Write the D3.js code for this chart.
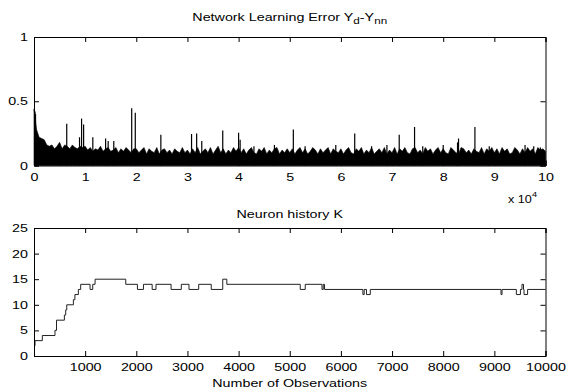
<!DOCTYPE html>
<html>
<head>
<meta charset="utf-8">
<script src="https://cdn.jsdelivr.net/npm/d3@7"></script>
<style>
  body { margin: 0; background: #fff; }
  svg { display: block; font-family: "Liberation Sans", Arial, sans-serif; }
  .axis text { font-size: 11px; fill: #000; }
  .axis path, .axis line { stroke: #000; }
</style>
</head>
<body>
<div id="chart"></div>
<script>
// top plot: envelope of the error every 500 observations (0 .. 100000)
const errStep = 500;
const errEnv = [
  0.44,0.28,0.22,0.21,0.20,0.16,0.15,0.16,0.13,0.15,0.18,0.13,0.16,0.15,0.13,0.16,0.14,0.13,0.15,0.14,
  0.15,0.12,0.14,0.11,0.13,0.12,0.15,0.11,0.13,0.14,0.11,0.12,0.14,0.10,0.13,0.11,0.14,0.12,0.10,0.13,
  0.13,0.10,0.12,0.14,0.09,0.13,0.11,0.10,0.14,0.09,0.12,0.13,0.10,0.12,0.09,0.13,0.11,0.10,0.14,0.10,
  0.12,0.09,0.13,0.10,0.14,0.09,0.11,0.13,0.10,0.14,0.09,0.12,0.15,0.10,0.13,0.09,0.12,0.10,0.14,0.11,
  0.14,0.10,0.13,0.09,0.12,0.14,0.10,0.09,0.13,0.11,0.14,0.09,0.12,0.10,0.13,0.14,0.09,0.12,0.10,0.13,
  0.10,0.13,0.09,0.12,0.14,0.10,0.13,0.09,0.11,0.14,0.12,0.09,0.13,0.10,0.12,0.14,0.09,0.13,0.11,0.10,
  0.13,0.09,0.12,0.14,0.10,0.09,0.13,0.11,0.14,0.09,0.12,0.10,0.14,0.09,0.11,0.13,0.10,0.14,0.09,0.12,
  0.10,0.14,0.09,0.13,0.11,0.14,0.10,0.09,0.13,0.14,0.10,0.12,0.09,0.14,0.11,0.13,0.09,0.12,0.14,0.10,
  0.13,0.10,0.09,0.14,0.12,0.10,0.09,0.14,0.13,0.10,0.12,0.09,0.13,0.11,0.10,0.14,0.09,0.13,0.11,0.14,
  0.10,0.13,0.09,0.14,0.11,0.13,0.09,0.10,0.14,0.12,0.09,0.13,0.10,0.14,0.11,0.13,0.09,0.14,0.12,0.13,
  0.11
];
// isolated spikes (observation, error)
const spikeObs = [200, 300, 5000, 6400, 8900, 9300, 9700, 11500, 14000, 14500, 15600, 19100, 19800,
  24800, 30800, 31800, 32800, 36900, 40000, 40300, 43000, 47000, 50700, 53000, 59000, 62700, 66000,
  69000, 71400, 74400, 76000, 80000, 82800, 83000, 86200, 89000, 96000, 97700, 99000];
const spikeVal = [0.42, 0.40, 0.17, 0.325, 0.22, 0.365, 0.32, 0.22, 0.21, 0.19, 0.19, 0.445, 0.41,
  0.24, 0.245, 0.25, 0.19, 0.273, 0.255, 0.20, 0.15, 0.16, 0.28, 0.15, 0.16, 0.25, 0.15,
  0.16, 0.24, 0.30, 0.15, 0.16, 0.18, 0.21, 0.30, 0.15, 0.16, 0.15, 0.14];

// bottom plot: neuron count K, step changes (observation, K)
const kObs = [0, 20, 163, 410, 440, 594, 620, 640, 770, 800, 867, 913, 1096, 1148, 1194, 1794, 2022,
  2140, 2310, 2385, 2680, 2880, 3030, 3220, 3465, 3690, 3770, 5205, 5303, 5630, 5655, 5680, 6430,
  6455, 6500, 6575, 9130, 9150, 9430, 9510, 9540, 9570, 9580, 9650, 10000];
const kVal = [2, 3, 4, 5, 7, 8, 9, 10, 11, 12, 13, 14, 13, 14, 15, 14, 13,
  14, 13, 14, 13, 14, 13, 14, 13, 15, 14, 13, 14, 13, 14, 13, 12,
  13, 12, 13, 12, 13, 12, 13, 14, 13, 12, 13, 13];

const errTicks = d3.range(0, 100001, 10000);
const errYTicks = [0, 0.5, 1];
const kTicks = d3.range(1000, 10001, 1000);
const kYTicks = [0, 5, 10, 15, 20, 25];

const W = 566, H = 392;
const left = 34, right = 545.5;
const top1 = 37, bot1 = 165.5, top2 = 228, bot2 = 356;
const tick = 5;
const wide = 1.3; // the original text is stretched horizontally

const svg = d3.select('#chart').append('svg')
  .attr('width', W).attr('height', H);

function stretch(sel, k) {
  sel.each(function() {
    const t = d3.select(this);
    const x = +(t.attr('x') || 0);
    t.attr('transform', 'translate(' + x + ',0) scale(' + k + ',1) translate(' + (-x) + ',0)');
  });
}

// ---------- top plot ----------
const x1 = d3.scaleLinear().domain([0, 100000]).range([left, right]);
const y1 = d3.scaleLinear().domain([0, 1]).range([bot1, top1]);

const area = d3.area()
  .x((d, i) => x1(i * errStep))
  .y0(y1(0))
  .y1(d => y1(d));
svg.append('path')
  .datum(errEnv)
  .attr('d', area)
  .attr('fill', '#000')
  .attr('stroke', '#000')
  .attr('stroke-width', 0.6);

svg.append('g').selectAll('line')
  .data(spikeObs)
  .enter().append('line')
  .attr('x1', d => x1(d)).attr('x2', d => x1(d))
  .attr('y1', y1(0))
  .attr('y2', (d, i) => y1(spikeVal[i]))
  .attr('stroke', '#000')
  .attr('stroke-width', 1.2);

function frame(x, y, xt, yt, xfmt, yfmt, yb) {
  svg.append('g').attr('class', 'axis')
    .attr('transform', 'translate(0,' + yb[0] + ')')
    .call(d3.axisBottom(x).tickValues(xt).tickFormat(xfmt).tickSize(-tick).tickPadding(tick + 5))
    .call(g => g.selectAll('text').attr('dy', '0.5em'))
    .call(g => stretch(g.selectAll('text'), wide));
  svg.append('g').attr('class', 'axis')
    .attr('transform', 'translate(0,' + yb[1] + ')')
    .call(d3.axisTop(x).tickValues(xt).tickFormat('').tickSize(-tick));
  svg.append('g').attr('class', 'axis')
    .attr('transform', 'translate(' + left + ',0)')
    .call(d3.axisLeft(y).tickValues(yt).tickFormat(yfmt).tickSize(-tick).tickPadding(6))
    .call(g => stretch(g.selectAll('text'), wide));
  svg.append('g').attr('class', 'axis')
    .attr('transform', 'translate(' + right + ',0)')
    .call(d3.axisRight(y).tickValues(yt).tickFormat('').tickSize(-tick));
  svg.selectAll('.axis path.domain').attr('stroke-width', 1);
}

frame(x1, y1, errTicks, errYTicks, d => d / 10000, d => d, [bot1, top1]);

const t1 = svg.append('text')
  .attr('x', (left + right) / 2).attr('y', 21)
  .attr('text-anchor', 'middle')
  .style('font-size', '11px');
t1.append('tspan').text('Network Learning Error Y');
t1.append('tspan').text('d').attr('dy', 3).style('font-size', '9px');
t1.append('tspan').text('-Y').attr('dy', -3);
t1.append('tspan').text('nn').attr('dy', 3).style('font-size', '9px');
stretch(t1, wide);

const ex = svg.append('text')
  .attr('x', 508).attr('y', 203)
  .style('font-size', '11px');
ex.append('tspan').text('x 10');
ex.append('tspan').text('4').attr('dy', -6).style('font-size', '8px');
stretch(ex, 1.15);

// ---------- bottom plot ----------
const x2 = d3.scaleLinear().domain([0, 10000]).range([left, right]);
const y2 = d3.scaleLinear().domain([0, 25]).range([bot2, top2]);

const line = d3.line()
  .x(d => x2(d[0]))
  .y(d => y2(d[1]))
  .curve(d3.curveStepAfter);
svg.append('path')
  .datum(kObs.map((o, i) => [o, kVal[i]]))
  .attr('d', line)
  .attr('fill', 'none')
  .attr('stroke', '#222')
  .attr('stroke-width', 1);

frame(x2, y2, kTicks, kYTicks, d => d, d => d, [bot2, top2]);

const t2 = svg.append('text')
  .attr('x', (left + right) / 2).attr('y', 218)
  .attr('text-anchor', 'middle')
  .style('font-size', '11px')
  .text('Neuron history K');
stretch(t2, wide);

const t3 = svg.append('text')
  .attr('x', (left + right) / 2).attr('y', 387)
  .attr('text-anchor', 'middle')
  .style('font-size', '11px')
  .text('Number of Observations');
stretch(t3, wide);
</script>
</body>
</html>
